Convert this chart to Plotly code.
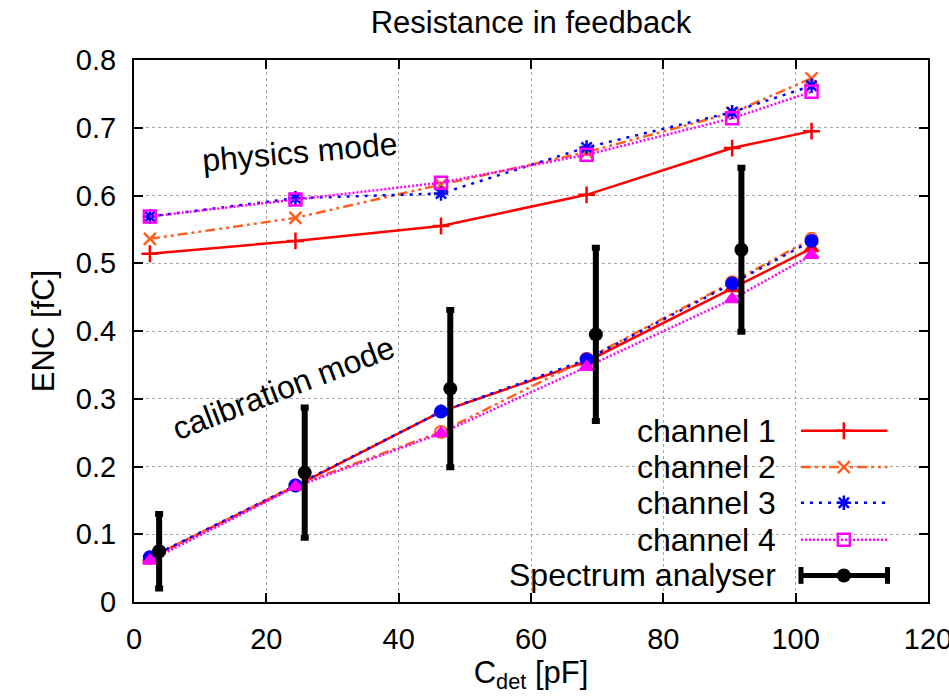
import plotly.graph_objects as go

# Detector capacitance [pF] for the channel scans and the spectrum-analyser points
c_det = [2.4, 24.4, 46.4, 68.4, 90.4, 102.4]
c_det_sa = [3.8, 25.8, 47.8, 69.8, 91.8]

# ENC [fC] in physics mode
phys_ch1 = [0.514, 0.533, 0.555, 0.601, 0.670, 0.695]
phys_ch2 = [0.536, 0.567, 0.616, 0.664, 0.722, 0.773]
phys_ch3 = [0.569, 0.596, 0.603, 0.671, 0.723, 0.762]
phys_ch4 = [0.569, 0.594, 0.619, 0.660, 0.714, 0.753]

# ENC [fC] in calibration mode
calib_ch1 = [0.065, 0.171, 0.281, 0.355, 0.463, 0.522]
calib_ch2 = [0.065, 0.172, 0.251, 0.359, 0.472, 0.536]
calib_ch3 = [0.066, 0.172, 0.281, 0.358, 0.470, 0.533]
calib_ch4 = [0.061, 0.170, 0.249, 0.347, 0.447, 0.512]

# Spectrum analyser measurement with its uncertainty
sa_enc = [0.075, 0.191, 0.315, 0.395, 0.520]
sa_err = [0.055, 0.096, 0.116, 0.128, 0.121]

series_names = ["channel 1", "channel 2", "channel 3", "channel 4", "Spectrum analyser"]
x_ticks = [0, 20, 40, 60, 80, 100, 120]
x_tick_text = ["0", "20", "40", "60", "80", "100", "120"]
y_ticks = [0, 0.1, 0.2, 0.3, 0.4, 0.5, 0.6, 0.7, 0.8]
y_tick_text = ["0", "0.1", "0.2", "0.3", "0.4", "0.5", "0.6", "0.7", "0.8"]

FONT = "Liberation Sans, Arial, Helvetica, sans-serif"

colors = ["#ff0000", "#ff6020", "#0000ff", "#ff00ff"]
dashes = ["solid", "10px,4px,3px,4px,3px,4px", "3px,6px", "2px,2px"]
phys_symbols = ["cross-thin-open", "x-thin-open", "asterisk-open", "square-open"]
calib_symbols = ["triangle-up", "circle-open", "circle", "triangle-up"]

fig = go.Figure()

phys = [phys_ch1, phys_ch2, phys_ch3, phys_ch4]
calib = [calib_ch1, calib_ch2, calib_ch3, calib_ch4]

for i in range(4):
    fig.add_trace(go.Scatter(
        x=c_det, y=phys[i], mode="lines+markers", name=series_names[i],
        line=dict(color=colors[i], width=2.5, dash=dashes[i]),
        marker=dict(symbol=phys_symbols[i], size=12, color=colors[i],
                    line=dict(color=colors[i], width=2.5)),
        showlegend=False))

for i in range(4):
    fig.add_trace(go.Scatter(
        x=c_det, y=calib[i], mode="lines+markers", name=series_names[i],
        line=dict(color=colors[i], width=2.5, dash=dashes[i]),
        marker=dict(symbol=calib_symbols[i], size=12, color=colors[i],
                    line=dict(color=colors[i], width=2)),
        showlegend=False))

fig.add_trace(go.Scatter(
    x=c_det_sa, y=sa_enc, mode="markers", name=series_names[4],
    marker=dict(symbol="circle", size=14, color="black"),
    error_y=dict(type="data", array=sa_err, visible=True, color="black",
                 thickness=6, width=4),
    showlegend=False))

# Key drawn gnuplot-style (text on the left, sample on the right) on a helper axis
key_rows = [0.316, 0.249, 0.183, 0.115, 0.049]
key_x0, key_xm, key_x1 = 0.840, 0.894, 0.949
for i in range(4):
    fig.add_trace(go.Scatter(
        x=[key_x0, key_x1], y=[key_rows[i]] * 2, mode="lines",
        line=dict(color=colors[i], width=2.5, dash=dashes[i]),
        xaxis="x2", yaxis="y2", showlegend=False, hoverinfo="skip"))
    fig.add_trace(go.Scatter(
        x=[key_xm], y=[key_rows[i]], mode="markers",
        marker=dict(symbol=phys_symbols[i], size=12, color=colors[i],
                    line=dict(color=colors[i], width=2.5)),
        xaxis="x2", yaxis="y2", showlegend=False, hoverinfo="skip"))
fig.add_trace(go.Scatter(
    x=[key_x0, key_x1], y=[key_rows[4]] * 2, mode="lines+markers",
    line=dict(color="black", width=5),
    marker=dict(symbol="line-ns", size=12, color="black",
                line=dict(color="black", width=5)),
    xaxis="x2", yaxis="y2", showlegend=False, hoverinfo="skip"))
fig.add_trace(go.Scatter(
    x=[key_xm], y=[key_rows[4]], mode="markers",
    marker=dict(symbol="circle", size=14, color="black"),
    xaxis="x2", yaxis="y2", showlegend=False, hoverinfo="skip"))

annotations = []
for i, name in enumerate(series_names):
    annotations.append(dict(
        x=0.811, y=key_rows[i], xref="paper", yref="paper", text=name,
        showarrow=False, xanchor="right", yanchor="middle",
        font=dict(family=FONT, size=32, color="black")))

annotations.append(dict(
    x=25.1, y=0.664, xref="x", yref="y", text="physics mode", showarrow=False,
    textangle=-5, font=dict(family=FONT, size=32, color="black")))
annotations.append(dict(
    x=22.6, y=0.316, xref="x", yref="y", text="calibration mode", showarrow=False,
    textangle=-21, font=dict(family=FONT, size=32, color="black")))

axis_common = dict(
    showline=True, linecolor="black", linewidth=2, mirror="ticks",
    ticks="inside", ticklen=9, tickwidth=1.5, tickcolor="black",
    showgrid=True, gridcolor="#a8a8a8", gridwidth=1, griddash="dot",
    zeroline=False, automargin=False, ticklabeloverflow="allow",
    tickfont=dict(family=FONT, size=29, color="black"),
)

fig.update_layout(
    width=949, height=697,
    margin=dict(l=134, r=21, t=60, b=95),
    paper_bgcolor="white", plot_bgcolor="white",
    showlegend=False,
    title=dict(text="Resistance in feedback", x=0.5, xref="paper",
               y=1 - 22 / 697, yref="container", yanchor="middle",
               font=dict(family=FONT, size=31, color="black")),
    xaxis=dict(range=[0, 120], tickvals=x_ticks, ticktext=x_tick_text,
               ticklabelstandoff=10,
               title=dict(text="C<sub>det</sub> [pF]", standoff=2,
                          font=dict(family=FONT, size=31, color="black")),
               **axis_common),
    yaxis=dict(range=[0, 0.8], tickvals=y_ticks, ticktext=y_tick_text,
               ticklabelstandoff=10,
               title=dict(text="ENC [fC]", standoff=12,
                          font=dict(family=FONT, size=31, color="black")),
               **axis_common),
    xaxis2=dict(overlaying="x", range=[0, 1], visible=False, fixedrange=True),
    yaxis2=dict(overlaying="y", range=[0, 1], visible=False, fixedrange=True),
    annotations=annotations,
)

fig.write_html("out.html")
